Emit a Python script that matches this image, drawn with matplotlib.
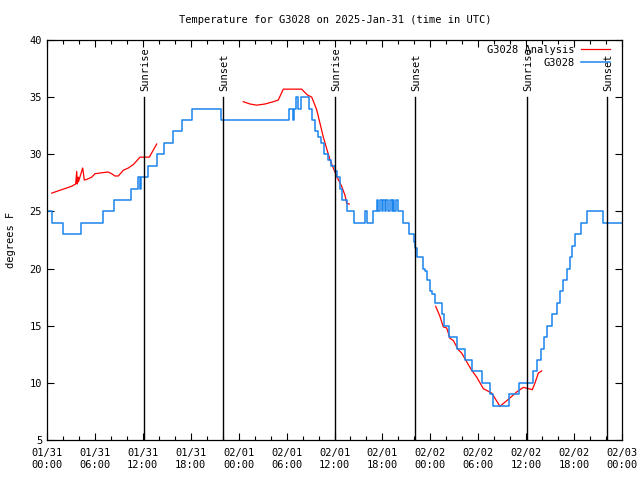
import numpy as np
import matplotlib
matplotlib.use("Agg")
import matplotlib.pyplot as plt
from matplotlib.ticker import MultipleLocator

plt.rcParams['font.family'] = 'DejaVu Sans Mono'

# hours since 2025-01-31 00:00 UTC, temperature in F
obs_hours = [0, 0.59, 2.04, 4.26, 7.05, 8.43, 10.52, 11.43, 11.7, 11.83, 12.68, 13.81,
             14.69, 15.74, 16.87, 18.12, 21.75, 30.34, 30.77, 30.93, 31.18, 31.43, 31.81,
             32.81, 33.18, 33.56, 33.93, 34.31, 34.68, 35.19, 35.56, 36.06, 36.31, 36.69,
             37.0, 37.6, 38.44, 39.82, 40.03, 40.78, 41.32, 41.5, 41.7, 41.9, 42.07, 42.3,
             42.5, 42.7, 42.95, 43.15, 43.3, 43.5, 43.65, 43.95, 44.62, 45.33, 45.95, 46.08,
             46.37, 47.04, 47.33, 47.55, 47.96, 48.17, 48.58, 49.42, 49.71, 50.34, 51.38,
             52.34, 53.18, 54.43, 55.47, 55.89, 57.89, 59.1, 60.82, 61.32, 61.86, 62.23,
             62.57, 63.2, 63.82, 64.24, 64.57, 65.08, 65.49, 65.7, 66.11, 66.83, 67.66,
             69.66, 72]
obs_temps = [25, 24, 23, 24, 25, 26, 27, 28, 27, 28, 29, 30,
             31, 32, 33, 34, 33, 34, 33, 34, 35, 34, 35,
             34, 33, 32, 31.5, 31, 30, 29.5, 29, 28.5, 28, 27,
             26, 25, 24, 25, 24, 25, 26, 25, 26, 25, 26, 25,
             26, 25, 26, 25, 26, 25, 26, 25, 24, 23, 22.3, 21.8,
             21, 20, 19.8, 19, 18, 17.8, 17, 16, 15, 14, 13,
             12, 11, 10, 9, 8, 9, 10, 11, 12, 13, 14,
             15, 16, 17, 18, 19, 20, 21, 22, 23, 24, 25,
             24, 24]

ana_hours = [0.59, 1.41, 2.25, 3.09, 3.59, 3.72, 3.79, 3.88, 3.94, 4.47, 4.67, 4.97,
             5.6, 6.01, 7.05, 7.68, 8.1, 8.51, 8.93, 9.55, 10.18, 10.81, 11.65, 12.81,
             13.74, np.nan,
             24.58, 25.42, 26.26, 27.3, 28.34, 28.96, 29.59, 31.89, 32.59, 33.15, 33.77,
             34.6, 35.44, 36.28, 36.9, 37.32, 37.53, 37.85, np.nan,
             48.67, 49.21, 49.62, 50.05, 50.46, 50.88, 51.5, 51.93, 52.75, 53.18, 53.81,
             54.63, 55.69, 56.72, 57.76, 58.81, 59.64, 60.27, 60.77, 61.11, 61.52, 61.95]
ana_temps = [26.6, 26.8, 27.0, 27.2, 27.4, 28.5, 27.4, 28.0, 27.6, 28.8, 27.75, 27.8,
             28.0, 28.3, 28.4, 28.45, 28.3, 28.1, 28.1, 28.6, 28.8, 29.1, 29.75, 29.75,
             30.9, np.nan,
             34.6, 34.4, 34.3, 34.4, 34.6, 34.75, 35.7, 35.7, 35.2, 35.0, 33.9,
             31.5, 29.5, 28.05, 27.2, 26.4, 25.7, 25.65, np.nan,
             16.7, 15.8, 14.9, 14.8, 13.9, 13.7, 12.9, 12.6, 11.6, 11.1, 10.5,
             9.5, 9.1, 7.95, 8.55, 9.2, 9.6, 9.5, 9.4, 10.0, 10.85, 11.05]

sun_hours = [12.15, 22.04, 36.06, 46.08, 60.1, 70.1]
sun_labels = ['Sunrise', 'Sunset', 'Sunrise', 'Sunset', 'Sunrise', 'Sunset']

tick_hours = list(range(0, 73, 6))
tick_labels = ['01/31\n00:00', '01/31\n06:00', '01/31\n12:00', '01/31\n18:00',
               '02/01\n00:00', '02/01\n06:00', '02/01\n12:00', '02/01\n18:00',
               '02/02\n00:00', '02/02\n06:00', '02/02\n12:00', '02/02\n18:00',
               '02/03\n00:00']

fig = plt.figure(figsize=(6.4, 4.8), dpi=100)
ax = fig.add_axes([47 / 640, 40 / 480, 575 / 640, 400 / 480])

red = '#ff0000'
blue = '#1a84ee'

ax.plot(ana_hours, ana_temps, color=red, lw=0.9, label='G3028 Analysis')
ax.plot(obs_hours, obs_temps, color=blue, lw=1.1, drawstyle='steps-post', label='G3028')

for h, lab in zip(sun_hours, sun_labels):
    ax.plot([h, h], [5, 35], color='black', lw=1.0)
    ax.text(h + 0.2, 35.5, lab, rotation=90, ha='center', va='bottom', fontsize=7.5)

ax.set_xlim(0, 72)
ax.set_ylim(5, 40)
ax.set_xticks(tick_hours)
ax.set_xticklabels(tick_labels, fontsize=7.5)
ax.xaxis.set_minor_locator(MultipleLocator(2))
ax.set_yticks(range(5, 41, 5))
ax.tick_params(axis='y', labelsize=7.5)
ax.tick_params(which='major', direction='in', length=5, top=True, right=True, width=0.8)
ax.tick_params(which='minor', direction='in', length=3, top=True, right=True, width=0.8)
ax.tick_params(axis='x', pad=6)
for s in ax.spines.values():
    s.set_linewidth(0.9)

ax.set_ylabel('degrees F', fontsize=7.5, labelpad=10)
fig.text(335 / 640, 1 - 20 / 480, 'Temperature for G3028 on 2025-Jan-31 (time in UTC)',
         ha='center', va='center', fontsize=7.5)

ax.legend(loc='upper right', bbox_to_anchor=(1, 1 + 7 / 400), frameon=False,
          markerfirst=False, fontsize=7.5, handlelength=2.8, borderaxespad=0.75,
          labelspacing=0.3, handletextpad=0.6)

fig.savefig('out.png', dpi=100)
